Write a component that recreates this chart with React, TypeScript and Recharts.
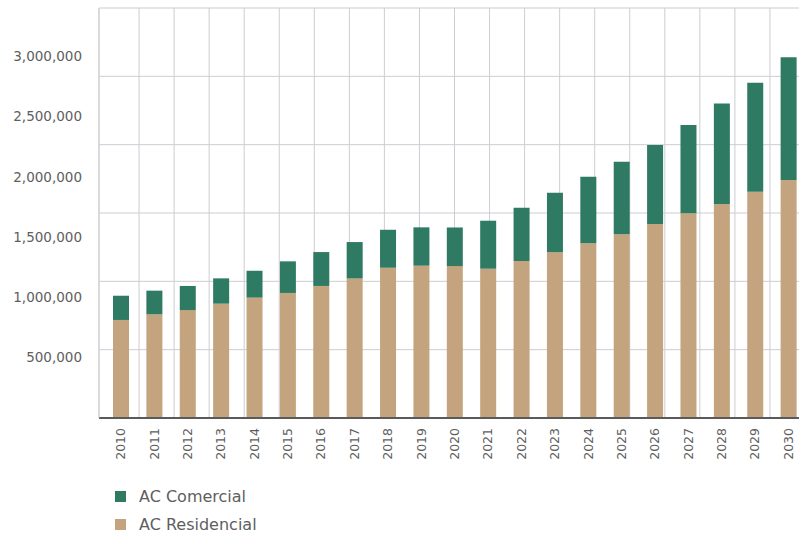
import React from 'react';
import {
  BarChart,
  Bar,
  XAxis,
  YAxis,
  CartesianGrid,
  Legend,
} from 'recharts';

const years = [
  '2010', '2011', '2012', '2013', '2014', '2015', '2016', '2017', '2018', '2019', '2020',
  '2021', '2022', '2023', '2024', '2025', '2026', '2027', '2028', '2029', '2030',
];

const residencial = [
  813000, 860000, 895000, 948000, 998000, 1037000, 1095000, 1158000, 1246000, 1263000, 1260000,
  1238000, 1302000, 1374000, 1449000, 1523000, 1609000, 1697000, 1774000, 1876000, 1973000,
];

const comercial = [
  201000, 196000, 200000, 210000, 223000, 262000, 281000, 301000, 315000, 318000, 320000,
  398000, 442000, 494000, 552000, 602000, 655000, 733000, 835000, 904000, 1018000,
];

const valueTicks = [500000, 1000000, 1500000, 2000000, 2500000, 3000000];

const legendOrder = ['AC Comercial', 'AC Residencial'];

// grid: 6 equal horizontal bands, a divider after each year
const gridRowCount = 6;
const gridCols = years.map((_, i) => i + 1);

const data = years.map((year, i) => ({
  year,
  residencial: residencial[i],
  comercial: comercial[i],
}));

const GREEN = '#2e7a62';
const TAN = '#c4a47e';
const TEXT = '#5e5e5e';
const FONT = '"DejaVu Sans", sans-serif';

const YearTick = ({ x, y, payload }: any) => (
  <g transform={`translate(${x},${y})`}>
    <text
      transform="rotate(-90)"
      textAnchor="end"
      dy="0.36em"
      fill={TEXT}
      fontSize={12.5}
      fontFamily={FONT}
    >
      {payload.value}
    </text>
  </g>
);

const LegendList = ({ payload }: any) => {
  const items = [...(payload || [])].sort(
    (a: any, b: any) => legendOrder.indexOf(a.value) - legendOrder.indexOf(b.value)
  );
  return (
    <div style={{ height: 57, paddingTop: 6, boxSizing: 'border-box' }}>
      {items.map((entry: any) => (
        <div
          key={entry.value}
          style={{ display: 'flex', alignItems: 'center', height: 28.5 }}
        >
          <span
            style={{
              width: 11,
              height: 11,
              background: entry.color,
              display: 'inline-block',
              marginRight: 13,
            }}
          />
          <span style={{ fontFamily: FONT, fontSize: 16, color: TEXT }}>
            {entry.value}
          </span>
        </div>
      ))}
    </div>
  );
};

const rowLines = ({ offset }: any) =>
  Array.from({ length: gridRowCount + 1 }, (_, i) => offset.top + (offset.height * i) / gridRowCount);

export default function App() {
  return (
    <div
      style={{
        position: 'absolute',
        left: 0,
        top: 0,
        width: 799,
        height: 533,
        overflow: 'hidden',
        background: '#fff',
      }}
    >
      <BarChart
        width={805}
        height={533}
        data={data}
        margin={{ top: 8, right: 0, bottom: 0, left: 0 }}
      >
        <XAxis
          xAxisId="grid"
          type="number"
          domain={[0, years.length]}
          ticks={gridCols}
          interval={0}
          padding={{ left: 5, right: 0 }}
          hide
        />
        <CartesianGrid
          xAxisId="grid"
          stroke="#cdcdd3"
          horizontalCoordinatesGenerator={rowLines}
        />
        <XAxis
          dataKey="year"
          height={58}
          padding={{ left: 5, right: 0 }}
          interval={0}
          tickLine={false}
          tickSize={0}
          tickMargin={10}
          axisLine={{ stroke: '#5a5a5a', strokeWidth: 2 }}
          tick={<YearTick />}
        />
        <YAxis
          width={99}
          domain={[0, 3400000]}
          ticks={valueTicks}
          allowDataOverflow
          tickLine={false}
          tickSize={0}
          tickMargin={17}
          axisLine={{ stroke: '#cdcdd3' }}
          tick={{ fill: TEXT, fontSize: 13.5, fontFamily: FONT }}
          tickFormatter={(v: number) => v.toLocaleString('en-US')}
        />
        <Legend
          verticalAlign="bottom"
          align="left"
          wrapperStyle={{ left: 115, width: 300 }}
          content={<LegendList />}
        />
        <Bar
          dataKey="residencial"
          name="AC Residencial"
          stackId="ac"
          fill={TAN}
          barSize={16}
          isAnimationActive={false}
        />
        <Bar
          dataKey="comercial"
          name="AC Comercial"
          stackId="ac"
          fill={GREEN}
          barSize={16}
          isAnimationActive={false}
        />
      </BarChart>
    </div>
  );
}
